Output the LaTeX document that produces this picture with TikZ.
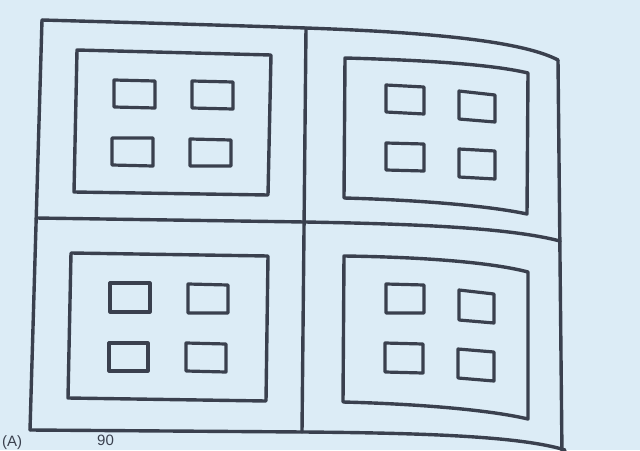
\documentclass[tikz,border=0pt]{standalone}
\usepackage{fontspec}
\setmainfont{Liberation Sans}
\definecolor{bg}{HTML}{DCECF6}
\definecolor{ink}{HTML}{3A404E}
\begin{document}
\begin{tikzpicture}[x=1pt,y=-1pt,
  ln/.style={draw=ink,line width=3.4pt,line join=round,line cap=round},
  sq/.style={draw=ink,line width=3.2pt,line join=round},
  cut/.style={text=ink,font=\fontsize{15}{15}\selectfont,anchor=north west,inner sep=0pt}]
\useasboundingbox (0,0) rectangle (640,450);
\fill[bg] (0,0) rectangle (640,450);
\begin{scope}
\clip (0,0) rectangle (640,450);
% outer frame
\draw[ln] (42,20) .. controls (150,23) and (250,26) .. (306,28)
  .. controls (420,32) and (520,40) .. (558,60);
\draw[ln] (42,20) -- (30,430);
\draw[ln] (558,60) -- (562,455);
\draw[ln] (30,430) -- (304,432) .. controls (420,433) and (520,436) .. (565,450);
% dividers
\draw[ln] (306,28) -- (302,432);
\draw[ln] (36,218) -- (305,222) .. controls (420,224) and (510,228) .. (560,241);
% top-left inner
\draw[ln] (77,50) -- (271,55) -- (268,195) -- (74,192) -- cycle;
\draw[sq] (114,80) -- (155,81) -- (155,108) -- (114,107) -- cycle;
\draw[sq] (192,81) -- (233,82) -- (233,109) -- (192,108) -- cycle;
\draw[sq] (112,138) -- (153,138) -- (153,166) -- (112,165) -- cycle;
\draw[sq] (190,139) -- (231,140) -- (231,166) -- (190,166) -- cycle;
% top-right inner
\draw[ln] (345,58) .. controls (420,60) and (490,64) .. (528,73)
  -- (527,214) .. controls (490,206) and (420,200) .. (344,198) -- cycle;
\draw[sq] (386,85) -- (424,87) -- (424,114) -- (386,112) -- cycle;
\draw[sq] (459,91) -- (495,95) -- (495,122) -- (459,119) -- cycle;
\draw[sq] (386,143) -- (424,144) -- (424,171) -- (386,170) -- cycle;
\draw[sq] (459,149) -- (495,151) -- (495,179) -- (459,177) -- cycle;
% bottom-left inner
\draw[ln] (71,253) -- (268,256) -- (266,401) -- (68,398) -- cycle;
\draw[sq] (110,283) -- (150,283) -- (150,312) -- (110,312) -- cycle;
\draw[sq] (188,284) -- (228,285) -- (228,313) -- (188,313) -- cycle;
\draw[sq] (109,343) -- (148,343) -- (148,371) -- (109,371) -- cycle;
\draw[sq] (186,343) -- (226,344) -- (226,372) -- (186,371) -- cycle;
% bottom-right inner
\draw[ln] (344,256) .. controls (420,257) and (490,262) .. (528,272)
  -- (528,419) .. controls (490,410) and (420,404) .. (343,402) -- cycle;
\draw[sq] (386,284) -- (424,285) -- (424,313) -- (386,313) -- cycle;
\draw[sq] (459,290) -- (494,294) -- (494,323) -- (459,320) -- cycle;
\draw[sq] (385,343) -- (423,344) -- (423,373) -- (385,372) -- cycle;
\draw[sq] (458,349) -- (494,352) -- (494,381) -- (458,378) -- cycle;
% text at the bottom
\node[cut] (lbl) at (2,435) {(A)};
\node[cut] (num) at (97,435) {90};
\end{scope}
\end{tikzpicture}
\end{document}
